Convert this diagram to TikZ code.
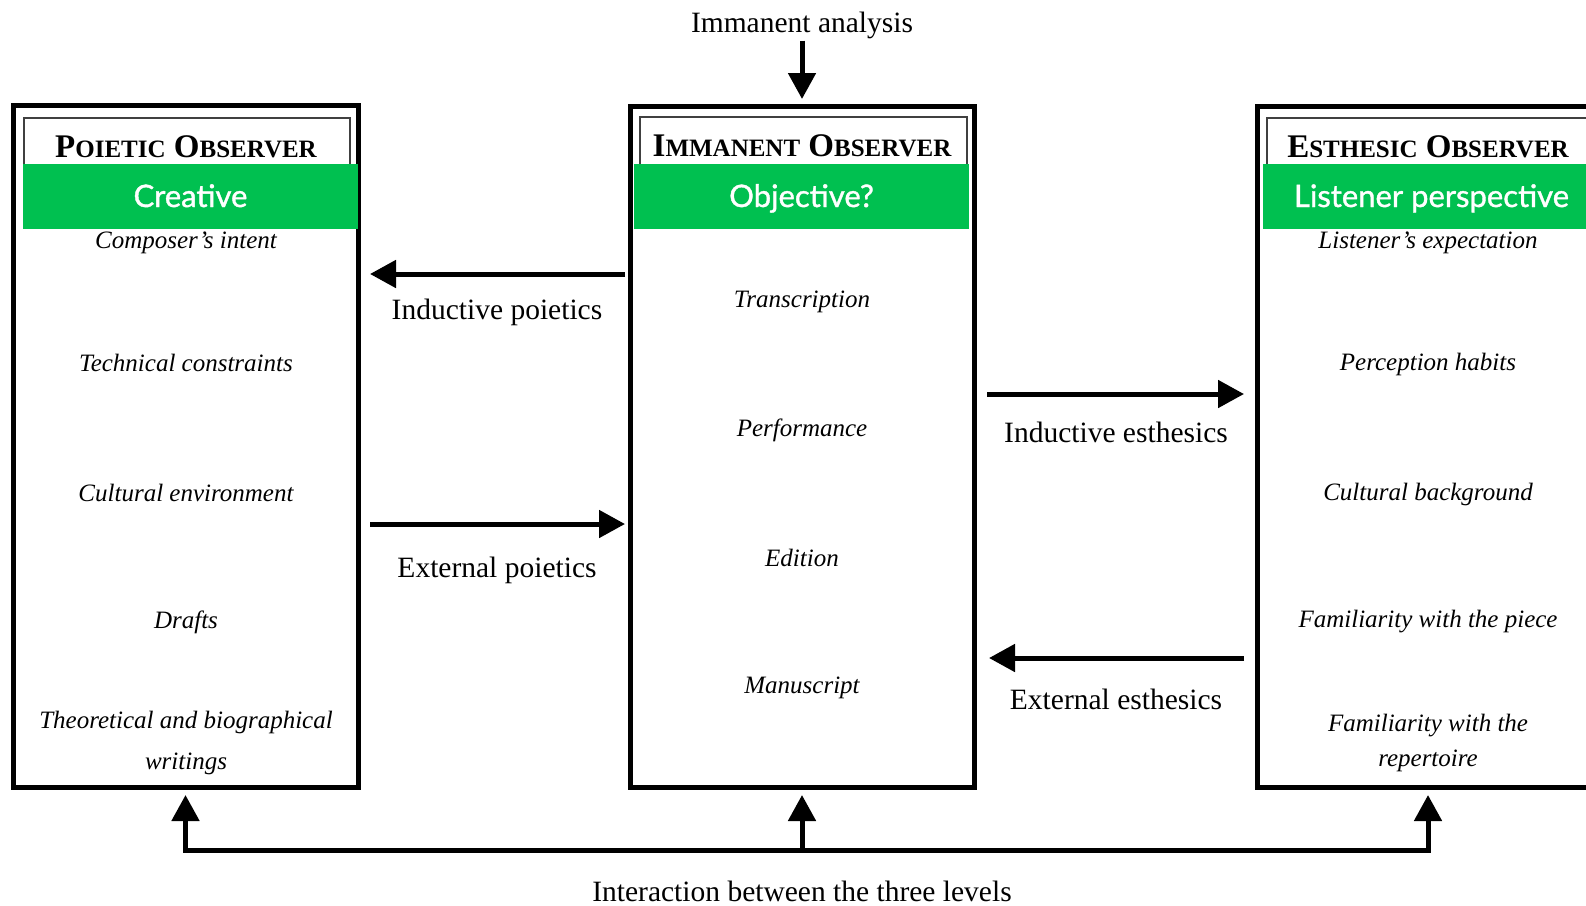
\documentclass[tikz,border=0pt]{standalone}
\usepackage{fontspec}
\setmainfont{Liberation Serif}
\newfontfamily\greenfont[FakeBold=1.2]{Lato}
\usetikzlibrary{arrows.meta}
\definecolor{bandgreen}{RGB}{0,192,80}
\newcommand{\fsc}[2]{#1{\fontsize{25}{25}\selectfont #2}}
\begin{document}
\begin{tikzpicture}[x=1pt,y=-1pt,
  outerbox/.style={draw=black,line width=5pt,inner sep=0pt,outer sep=0pt},
  innerframe/.style={draw=black!75,line width=2pt},
  greenband/.style={fill=bandgreen,draw=none,inner sep=0pt,outer sep=0pt,text=white,font=\greenfont\fontsize{31}{31}\selectfont,text height=24pt,text depth=3pt},
  boxtitle/.style={font=\fontsize{33}{33}\selectfont\bfseries},
  entry/.style={font=\fontsize{25}{34}\selectfont\itshape,align=center},
  flowlabel/.style={font=\fontsize{29.5}{30}\selectfont},
  flow/.style={line width=5pt,-{Triangle[width=27pt,length=26pt]}},
]
\useasboundingbox (0,0) rectangle (1586,905);
\clip (0,0) rectangle (1586,905);

% outer boxes
\node[outerbox,minimum width=345pt,minimum height=682pt] (pbox) at (185.5,446) {};
\node[outerbox,minimum width=344pt,minimum height=681pt] (mbox) at (802,446.5) {};
\node[outerbox,minimum width=342pt,minimum height=681pt] (ebox) at (1428,446.5) {};

% inner header frames
\draw[innerframe] (24,168) |- (350,118) -- (350,168);
\draw[innerframe] (640,168) |- (967,117) -- (967,168);
\draw[innerframe] (1267,168) |- (1600,118);

% green bands
\node[greenband,minimum width=335pt,minimum height=65pt] (pband) at (190.5,196.5) {Creative};
\node[greenband,minimum width=335pt,minimum height=65pt] (mband) at (801.5,196.5) {Objective?};
\node[greenband,minimum width=337pt,minimum height=65pt] (eband) at (1431.5,196.5) {Listener perspective};

% titles
\node[boxtitle] (ptitle) at (186,147) {\fsc{P}{OIETIC} \fsc{O}{BSERVER}};
\node[boxtitle] (mtitle) at (802,146) {\fsc{I}{MMANENT} \fsc{O}{BSERVER}};
\node[boxtitle] (etitle) at (1428,147) {\fsc{E}{STHESIC} \fsc{O}{BSERVER}};

% poietic entries
\node[entry] (p1) at (186,243) {Composer’s intent};
\node[entry] (p2) at (186,363) {Technical constraints};
\node[entry] (p3) at (186,493) {Cultural environment};
\node[entry] (p4) at (186,622) {Drafts};
\node[entry,font=\fontsize{25}{41}\selectfont\itshape] (p5) at (186,742.5) {Theoretical and biographical\\writings};

% immanent entries
\node[entry] (m1) at (802,302) {Transcription};
\node[entry] (m2) at (802,430) {Performance};
\node[entry] (m3) at (802,558) {Edition};
\node[entry] (m4) at (802,688) {Manuscript};

% esthesic entries
\node[entry] (e1) at (1428,243) {Listener’s expectation};
\node[entry] (e2) at (1428,364) {Perception habits};
\node[entry] (e3) at (1428,494) {Cultural background};
\node[entry] (e4) at (1428,622) {Familiarity with the piece};
\node[entry,font=\fontsize{25}{35}\selectfont\itshape] (e5) at (1428,742.5) {Familiarity with the\\repertoire};

% top label and arrow
\node[flowlabel,inner sep=2pt] (ia) at (802,25) {Immanent analysis};
\draw[flow,shorten >=7pt] (ia.south) -- (mbox.north);

% horizontal flows
\draw[flow,shorten <=5pt,shorten >=12pt] (mbox.west |- 0,274) -- (pbox.east |- 0,274);
\node[flowlabel] (indp) at (497,312) {Inductive poietics};
\draw[flow,shorten <=12pt,shorten >=5pt] (pbox.east |- 0,524) -- (mbox.west |- 0,524);
\node[flowlabel] (extp) at (497,570) {External poietics};
\draw[flow,shorten <=13pt,shorten >=13pt] (mbox.east |- 0,394) -- (ebox.west |- 0,394);
\node[flowlabel] (inde) at (1116,432) {Inductive esthesics};
\draw[flow,shorten <=13pt,shorten >=15pt] (ebox.west |- 0,658) -- (mbox.east |- 0,658);
\node[flowlabel] (exte) at (1116,699) {External esthesics};

% bottom interaction
\draw[line width=5pt,line join=miter,{Triangle[width=27pt,length=26pt]}-{Triangle[width=27pt,length=26pt]},shorten <=8pt,shorten >=8pt]
  (pbox.south) -- (pbox.south |- 0,850) -- (ebox.south |- 0,850) -- (ebox.south);
\draw[flow,shorten >=8pt] (mbox.south |- 0,850) -- (mbox.south);
\node[flowlabel,anchor=base] (inter) at (802,901) {Interaction between the three levels};
\end{tikzpicture}
\end{document}
